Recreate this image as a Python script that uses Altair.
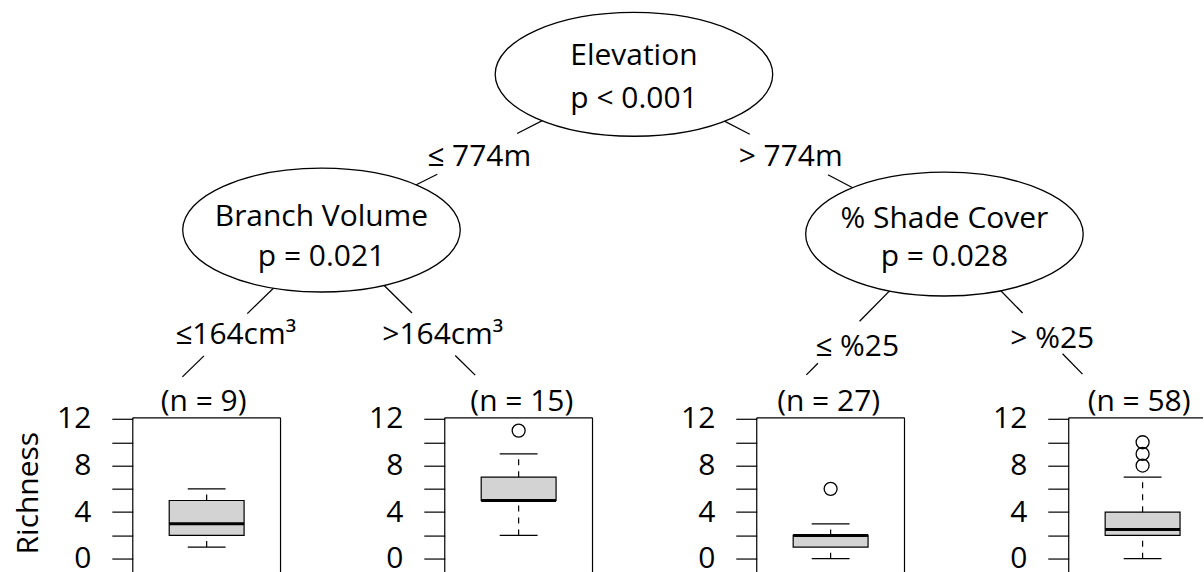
import altair as alt
import pandas as pd

# ---------------- data ----------------
node_vars = ["Elevation", "Branch Volume", "% Shade Cover"]
node_pvals = ["p < 0.001", "p = 0.021", "p = 0.028"]
split_labels = ["≤ 774m", "> 774m", "≤164cm³", ">164cm³", "≤ %25", "> %25"]
leaf_n = [9, 15, 27, 58]
whisker_low = [1, 2, 0, 0]
box_q1 = [2, 5, 1, 2]
box_median = [3, 5, 2, 2.5]
box_q3 = [5, 7, 2, 4]
whisker_high = [6, 9, 3, 7]
outliers = [[], [11], [6], [8, 9, 10]]
y_ticks = [0, 2, 4, 6, 8, 10, 12]
y_title = "Richness"

# ---------------- layout (page pixel coordinates of the tree) ----------------
FONT = "Open Sans"
FS = 30
PAGE_W = 1204
node_x = [634, 321, 945]
node_y = [73, 229, 233]
node_line1 = [63.5, 225, 227]
node_line2 = [107, 265, 265]
ELL_RX, ELL_RY = 139, 62
split_x = [479, 791, 235, 442.5, 857.5, 1053]
split_y = [165, 165, 343, 343, 355, 347]
leaf_x = [203, 521.7, 829, 1140]
leaf_y = [410, 410, 410, 410]
segments = [
    (551, 114.9, 517, 132.2), (437, 173.1, 400, 191.6),
    (715, 114.8, 750, 133.0), (828.3, 173.6, 866, 193.3),
    (278, 282.3, 246.7, 312.7), (203.3, 355, 181.7, 376),
    (377, 277.7, 411.7, 312.0), (455, 354.6, 475, 374.3),
    (898, 281.9, 860, 320.3), (818.3, 362.3, 806.7, 374),
    (992, 280, 1023.3, 312.1), (1063.3, 352.9, 1083.3, 373.3),
]
PANEL_LEFT0 = 132
TREE_W = PAGE_W - PANEL_LEFT0 - 1
TREE_H = 416.5
PANEL_W = 148
PANEL_SPACING = 164.5
UNIT = 140 / 12.0
Y_HI = 12.1
PANEL_H = 571 - TREE_H
Y_LO = Y_HI - PANEL_H / UNIT

k = 0.5523
ry = ELL_RY / ELL_RX
ELLIPSE = (
    f"M -1 0 C -1 {-k*ry:.4f} {-k:.4f} {-ry:.4f} 0 {-ry:.4f} "
    f"C {k:.4f} {-ry:.4f} 1 {-k*ry:.4f} 1 0 "
    f"C 1 {k*ry:.4f} {k:.4f} {ry:.4f} 0 {ry:.4f} "
    f"C {-k:.4f} {ry:.4f} -1 {k*ry:.4f} -1 0 Z"
)

# ---------------- tree ----------------
xs_tree = alt.Scale(domain=[PANEL_LEFT0, PANEL_LEFT0 + TREE_W], nice=False, zero=False)
ys_tree = alt.Scale(domain=[0, TREE_H], reverse=True, nice=False, zero=False)

seg_df = pd.DataFrame(segments, columns=["x", "y", "x2", "y2"])
nodes_df = pd.DataFrame({"x": node_x, "y": node_y, "y1": node_line1, "y2": node_line2,
                         "var": node_vars, "pval": node_pvals})
split_df = pd.DataFrame({"x": split_x, "y": split_y, "label": split_labels})
leaf_df = pd.DataFrame({"x": leaf_x, "y": leaf_y,
                        "label": [f"(n = {n})" for n in leaf_n]})

X = lambda f: alt.X(f, type="quantitative", scale=xs_tree, axis=None)
Y = lambda f: alt.Y(f, type="quantitative", scale=ys_tree, axis=None)

pin = alt.Chart(pd.DataFrame({"a": [0]})).mark_rule(color="white", strokeWidth=0.01).encode(
    x=alt.XDatum(0, type="quantitative", scale=xs_tree, axis=None),
    x2=alt.X2Datum(1),
    y=alt.YDatum(0, type="quantitative", scale=ys_tree, axis=None),
)
edges = alt.Chart(seg_df).mark_rule(color="black", strokeWidth=1.3).encode(
    x=X("x"), x2="x2", y=Y("y"), y2="y2")
ellipses = alt.Chart(nodes_df).mark_point(
    shape=ELLIPSE, size=(2 * ELL_RX) ** 2, filled=True, fill="white", stroke="black",
    strokeWidth=1.3, opacity=1, fillOpacity=1, strokeOpacity=1
).encode(x=X("x"), y=Y("y"))
txt = dict(font=FONT, fontSize=FS, align="center", baseline="alphabetic", color="black")
var_text = alt.Chart(nodes_df).mark_text(**txt).encode(x=X("x"), y=Y("y1"), text="var:N")
p_text = alt.Chart(nodes_df).mark_text(**txt).encode(x=X("x"), y=Y("y2"), text="pval:N")
split_text = alt.Chart(split_df).mark_text(**txt).encode(x=X("x"), y=Y("y"), text="label:N")
leaf_text = alt.Chart(leaf_df).mark_text(**txt).encode(x=X("x"), y=Y("y"), text="label:N")

tree = alt.layer(pin, edges, ellipses, var_text, p_text, split_text, leaf_text).properties(
    width=TREE_W, height=TREE_H)

# ---------------- boxplot panels ----------------
def panel(i):
    left = PANEL_LEFT0 + i * (PANEL_W + PANEL_SPACING)
    width = min(PANEL_W, PAGE_W - left)
    x_hi = width / PANEL_W
    xs = alt.Scale(domain=[0, x_hi], nice=False, zero=False)
    ys = alt.Scale(domain=[Y_LO, Y_HI], nice=False, zero=False)
    axis_kw = dict(values=y_ticks, labelExpr="datum.value % 4 == 0 ? datum.label : ''",
                   tickSize=21, ticks=True, domain=False, grid=False,
                   labelFont=FONT, labelFontSize=FS, labelColor="black", labelPadding=21,
                   labelBaseline="middle", tickColor="black", tickWidth=1.2)
    if i == 0:
        axis = alt.Axis(title=y_title, titleFont=FONT, titleFontSize=FS, titleFontWeight="normal",
                        titleColor="black", titleAngle=270, titleX=-95, titleY=75,
                        titleAlign="center", titleBaseline="alphabetic", **axis_kw)
    else:
        axis = alt.Axis(title="", **axis_kw)

    st = pd.DataFrame({"lo": [whisker_low[i]], "q1": [box_q1[i]], "med": [box_median[i]],
                       "q3": [box_q3[i]], "hi": [whisker_high[i]]})
    base = alt.Chart(st)
    YQ = lambda f: alt.Y(f, type="quantitative", scale=ys, axis=axis)
    YD = lambda v: alt.YDatum(v, type="quantitative", scale=ys, axis=axis)
    XD = lambda v: alt.XDatum(v, type="quantitative", scale=xs, axis=None)

    frame = alt.Chart(pd.DataFrame({"a": [0]}))
    layers = [
        # panel frame (left, top, right) – the bottom lies below the picture
        frame.mark_rule(color="black", strokeWidth=1.2).encode(
            x=XD(0), y=YD(Y_LO), y2=alt.Y2Datum(Y_HI)),
        frame.mark_rule(color="black", strokeWidth=1.2).encode(
            x=XD(0), x2=alt.X2Datum(x_hi), y=YD(Y_HI)),
    ]
    if width >= PANEL_W:
        layers.append(frame.mark_rule(color="black", strokeWidth=1.2).encode(
            x=XD(1), y=YD(Y_LO), y2=alt.Y2Datum(Y_HI)))
    layers += [
        base.mark_rule(color="black", strokeWidth=1.2, strokeDash=[6, 6]).encode(
            x=XD(0.5), y=YQ("lo"), y2="q1"),
        base.mark_rule(color="black", strokeWidth=1.2, strokeDash=[6, 6]).encode(
            x=XD(0.5), y=YQ("q3"), y2="hi"),
        base.mark_rule(color="black", strokeWidth=1.3).encode(
            x=XD(0.372), x2=alt.X2Datum(0.628), y=YQ("lo")),
        base.mark_rule(color="black", strokeWidth=1.3).encode(
            x=XD(0.372), x2=alt.X2Datum(0.628), y=YQ("hi")),
        base.mark_rect(fill="#d3d3d3", stroke="black", strokeWidth=1.2).encode(
            x=XD(0.2466), x2=alt.X2Datum(0.7534), y=YQ("q1"), y2="q3"),
        base.mark_rule(color="black", strokeWidth=3).encode(
            x=XD(0.2466), x2=alt.X2Datum(0.7534), y=YQ("med")),
    ]
    if outliers[i]:
        od = pd.DataFrame({"v": outliers[i]})
        layers.append(alt.Chart(od).mark_point(
            shape="circle", filled=False, color="black", size=169, strokeWidth=1.3, opacity=1
        ).encode(x=XD(0.5), y=YQ("v")))
    return alt.layer(*layers).properties(width=width, height=PANEL_H)

bottom = alt.hconcat(*[panel(i) for i in range(4)], spacing=PANEL_SPACING, bounds="flush")

chart = alt.vconcat(tree, bottom, spacing=0, bounds="flush").properties(
    padding=0, background="white"
).configure(font=FONT).configure_view(stroke="transparent", strokeWidth=0)

chart.save("out.html", embed_options={"renderer": "svg", "actions": False})
